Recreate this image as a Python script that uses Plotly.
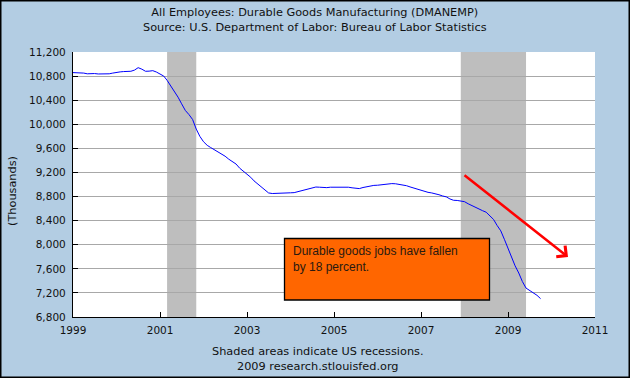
import pandas as pd
import plotly.graph_objects as go

# ---- data (thousands of employees, monthly) ----
v1999 = [10858, 10858, 10855, 10850, 10838, 10846, 10842, 10835, 10835, 10835, 10838, 10850]
v2000 = [10865, 10870, 10875, 10880, 10880, 10900, 10940, 10915, 10880, 10882, 10890, 10868]
v2001 = [10840, 10800, 10730, 10640, 10560, 10450, 10340, 10230, 10160, 10080, 9920, 9800]
v2002 = [9710, 9650, 9615, 9580, 9545, 9515, 9470, 9420, 9380, 9340, 9270, 9220]
v2003 = [9180, 9120, 9060, 9010, 8965, 8900, 8860, 8850, 8850, 8850, 8858, 8850]
v2004 = [8862, 8865, 8880, 8900, 8918, 8935, 8950, 8958, 8955, 8950, 8948, 8955]
v2005 = [8955, 8962, 8965, 8962, 8955, 8945, 8935, 8932, 8950, 8965, 8980, 8985]
v2006 = [8988, 8995, 9010, 9015, 9015, 9012, 9005, 8995, 8980, 8960, 8940, 8915]
v2007 = [8895, 8880, 8870, 8860, 8850, 8830, 8810, 8795, 8760, 8738, 8735, 8730]
v2008 = [8715, 8680, 8650, 8620, 8585, 8565, 8540, 8480, 8420, 8320, 8230, 8090]
v2009 = [7930, 7770, 7650, 7530, 7390, 7280, 7240, 7200, 7160, 7105]

values = v1999 + v2000 + v2001 + v2002 + v2003 + v2004 + v2005 + v2006 + v2007 + v2008 + v2009
dates = pd.date_range("1999-01-01", periods=len(values), freq="MS")

recession_starts = ["2001-03-01", "2007-12-01"]
recession_ends = ["2001-11-01", "2009-06-01"]

x_ticks = ["1999-01-01", "2001-01-01", "2003-01-01", "2005-01-01", "2007-01-01", "2009-01-01", "2011-01-01"]
x_tick_labels = ["1999", "2001", "2003", "2005", "2007", "2009", "2011"]
y_ticks = [6800, 7200, 7600, 8000, 8400, 8800, 9200, 9600, 10000, 10400, 10800, 11200]

title_lines = ["All Employees: Durable Goods Manufacturing (DMANEMP)",
               "Source: U.S. Department of Labor: Bureau of Labor Statistics"]
footer_lines = ["Shaded areas indicate US recessions.", "2009 research.stlouisfed.org"]
note_text = "Durable goods jobs have fallen<br>by 18 percent."

# ---- layout geometry ----
W, H = 630, 378
ML, MR, MT, MB = 73, 35, 52, 61
PW, PH = W - ML - MR, H - MT - MB
BG = "#B3CDE3"
FONT = "DejaVu Sans"


def px_x(px):
    return (px - ML) / PW


def px_y(py):
    return (H - MB - py) / PH


fig = go.Figure()
fig.add_trace(go.Scatter(x=dates, y=values, mode="lines",
                         line=dict(color="#0000FF", width=1), hoverinfo="skip",
                         showlegend=False))

shapes = []
for s, e in zip(recession_starts, recession_ends):
    shapes.append(dict(type="rect", xref="x", yref="paper", x0=s, x1=e, y0=0, y1=1,
                       fillcolor="#BEBEBE", line=dict(width=0), layer="below"))
# annotation box
shapes.append(dict(type="rect", xref="paper", yref="paper",
                   x0=px_x(284.5), x1=px_x(489.5), y0=px_y(300), y1=px_y(238.5),
                   fillcolor="#FF6600", line=dict(color="#000000", width=1.3), layer="above"))
# outer frame
shapes.append(dict(type="rect", xref="paper", yref="paper",
                   x0=px_x(0.75), x1=px_x(W - 0.75), y0=px_y(H - 0.75), y1=px_y(0.75),
                   line=dict(color="#000000", width=1.5), fillcolor="rgba(0,0,0,0)"))

annotations = [
    dict(text="<br>".join(title_lines), xref="paper", yref="paper", x=px_x(W / 2), y=px_y(4),
         xanchor="center", yanchor="top", showarrow=False, align="center",
         font=dict(family=FONT, size=11.3, color="#111")),
    dict(text="<br>".join(footer_lines), xref="paper", yref="paper", x=px_x(318), y=px_y(343),
         xanchor="center", yanchor="top", showarrow=False, align="center",
         font=dict(family=FONT, size=11.3, color="#111")),
    dict(text="(Thousands)", xref="paper", yref="paper", x=px_x(12), y=px_y(191),
         xanchor="center", yanchor="middle", showarrow=False, textangle=-90,
         font=dict(family=FONT, size=11.3, color="#111")),
    dict(text=note_text, xref="paper", yref="paper", x=px_x(291), y=px_y(242),
         xanchor="left", yanchor="top", showarrow=False, align="left",
         font=dict(family="Liberation Sans", size=12, color="#2a1a10")),
    dict(text="", xref="paper", yref="paper", x=px_x(568), y=px_y(257),
         axref="pixel", ayref="pixel", ax=-105, ay=-83, showarrow=True,
         arrowhead=4, arrowsize=1.1, arrowwidth=2.5, arrowcolor="#FF0000"),
]

fig.update_layout(
    width=W, height=H,
    margin=dict(l=ML, r=MR, t=MT, b=MB, pad=0),
    paper_bgcolor=BG, plot_bgcolor="#FFFFFF",
    shapes=shapes, annotations=annotations,
    hovermode=False,
    xaxis=dict(type="date", range=["1999-01-01", "2011-01-01"],
               tickmode="array", tickvals=x_ticks, ticktext=x_tick_labels,
               ticks="inside", ticklen=5, tickcolor="#000", tickwidth=1,
               showline=True, linecolor="#000", linewidth=1.3,
               showgrid=False, zeroline=False, ticklabelstandoff=3,
               tickfont=dict(family=FONT, size=10.5, color="#111")),
    yaxis=dict(range=[6800, 11200], tickmode="array", tickvals=y_ticks,
               tickformat=",", ticks="inside", ticklen=5, tickcolor="#000", tickwidth=1,
               showline=True, linecolor="#000", linewidth=1.3,
               showgrid=True, gridcolor="#A8A8A8", gridwidth=1, zeroline=False,
               ticklabelstandoff=4,
               tickfont=dict(family=FONT, size=10.5, color="#111")),
)

fig.write_html("out.html", config={"displayModeBar": False},
               post_script="document.body.style.margin='0';")
